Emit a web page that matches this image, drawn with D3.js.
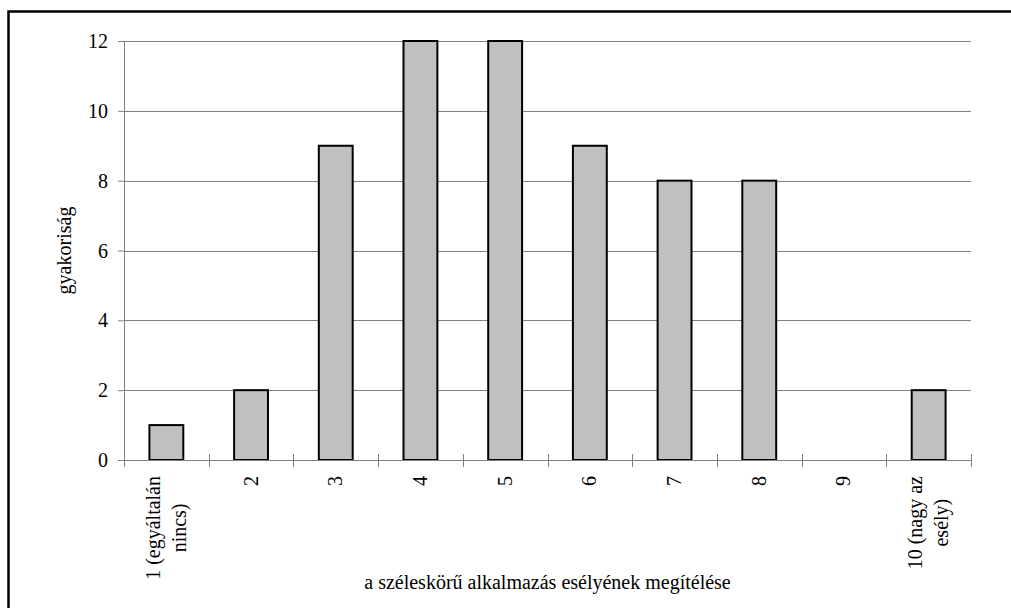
<!DOCTYPE html>
<html>
<head>
<meta charset="utf-8">
<script src="https://cdn.jsdelivr.net/npm/d3@7"></script>
<style>
  body { margin: 0; background: #fff; }
  svg { display: block; font-family: 'Liberation Serif', 'Times New Roman', serif; }
</style>
</head>
<body>
<div id="bar-chart"></div>
<script>
const categories = [
  '1 (egyáltalán\nnincs)', '2', '3', '4', '5', '6', '7', '8', '9', '10 (nagy az\nesély)'
]
const counts = [1, 2, 9, 12, 12, 9, 8, 8, 0, 2]
const yTicks = [0, 2, 4, 6, 8, 10, 12]
const xTitle = 'a széleskörű alkalmazás esélyének megítélése'
const yTitle = 'gyakoriság'

const margin = { top: 41, left: 124, right: 40, bottom: 148 }
const fullWidth = 1011
const fullHeight = 608
const width = fullWidth - margin.left - margin.right
const height = fullHeight - margin.top - margin.bottom

const root = d3
  .select('#bar-chart')
  .append('svg')
  .attr('width', fullWidth)
  .attr('height', fullHeight)

// frame round the chart (only top/left edges fall inside the picture)
root
  .append('rect')
  .attr('x', 8.5)
  .attr('y', 11.5)
  .attr('width', fullWidth + 20)
  .attr('height', fullHeight + 20)
  .attr('fill', 'none')
  .attr('stroke', '#000')
  .attr('stroke-width', 2.5)

const svg = root
  .append('g')
  .attr('transform', 'translate(' + margin.left + ',' + margin.top + ')')

const xPositionScale = d3
  .scaleBand()
  .domain(categories)
  .range([0, width])
  .padding(0)

const yPositionScale = d3
  .scaleLinear()
  .domain([0, 12])
  .range([height, 0])

// gridlines + y axis
const yAxis = d3
  .axisLeft(yPositionScale)
  .tickValues(yTicks)
  .tickSize(6)
  .tickPadding(10)
svg
  .append('g')
  .attr('class', 'axis y-axis')
  .call(yAxis)

svg
  .selectAll('.grid')
  .data(yTicks.filter(d => d > 0))
  .enter()
  .append('line')
  .attr('class', 'grid')
  .attr('x1', 0)
  .attr('x2', width)
  .attr('y1', d => Math.round(yPositionScale(d)) + 0.5)
  .attr('y2', d => Math.round(yPositionScale(d)) + 0.5)
  .attr('stroke', '#808080')
  .attr('stroke-width', 1)

svg.selectAll('.y-axis path').attr('stroke', '#808080')
svg.selectAll('.y-axis line').attr('stroke', '#808080')
svg
  .selectAll('.y-axis text')
  .attr('font-size', 20)
  .attr('fill', '#000')
  .attr('font-family', 'Liberation Serif')
  .attr('dy', '0.33em')

// bars
const barWidth = xPositionScale.bandwidth() * 0.4
svg
  .selectAll('.bar')
  .data(counts.map((c, i) => ({ cat: categories[i], value: c })).filter(d => d.value > 0))
  .enter()
  .append('rect')
  .attr('class', 'bar')
  .attr('x', d => xPositionScale(d.cat) + (xPositionScale.bandwidth() - barWidth) / 2)
  .attr('y', d => yPositionScale(d.value))
  .attr('width', barWidth)
  .attr('height', d => height - yPositionScale(d.value))
  .attr('fill', '#c0c0c0')
  .attr('stroke', '#000')
  .attr('stroke-width', 2)

// x axis with crossing ticks at band edges
const xEdges = d3.range(categories.length + 1).map(i => i * xPositionScale.step())
const xAxisG = svg
  .append('g')
  .attr('class', 'axis x-axis')
  .attr('transform', 'translate(0,' + height + ')')

xAxisG
  .append('line')
  .attr('x1', 0)
  .attr('x2', width)
  .attr('y1', 0.5)
  .attr('y2', 0.5)
  .attr('stroke', '#808080')

xAxisG
  .selectAll('.tick-mark')
  .data(xEdges)
  .enter()
  .append('line')
  .attr('class', 'tick-mark')
  .attr('x1', d => Math.round(d) + 0.5)
  .attr('x2', d => Math.round(d) + 0.5)
  .attr('y1', -6)
  .attr('y2', 7)
  .attr('stroke', '#808080')

// category labels, rotated, lines centred on each other
const labels = xAxisG
  .selectAll('.cat-label')
  .data(categories)
  .enter()
  .append('g')
  .attr('class', 'cat-label')
  .attr('transform', d => 'translate(' + (xPositionScale(d) + xPositionScale.bandwidth() / 2) + ',16) rotate(-90)')

labels.each(function(d) {
  const g = d3.select(this)
  const lines = d.split('\n')
  const texts = lines.map((line, i) =>
    g
      .append('text')
      .text(line)
      .attr('font-size', 20)
      .attr('text-anchor', 'middle')
      .attr('y', 6.5 + (i - (lines.length - 1) / 2) * 26)
  )
  const maxLen = d3.max(texts, t => t.node().getComputedTextLength())
  texts.forEach(t => t.attr('x', -maxLen / 2))
})

// axis titles
svg
  .append('text')
  .text(xTitle)
  .attr('x', width / 2)
  .attr('y', height + 129)
  .attr('text-anchor', 'middle')
  .attr('font-size', 20)

svg
  .append('text')
  .text(yTitle)
  .attr('transform', 'translate(' + (71 - margin.left) + ',' + height / 2 + ') rotate(-90)')
  .attr('text-anchor', 'middle')
  .attr('font-size', 20)
</script>
</body>
</html>
